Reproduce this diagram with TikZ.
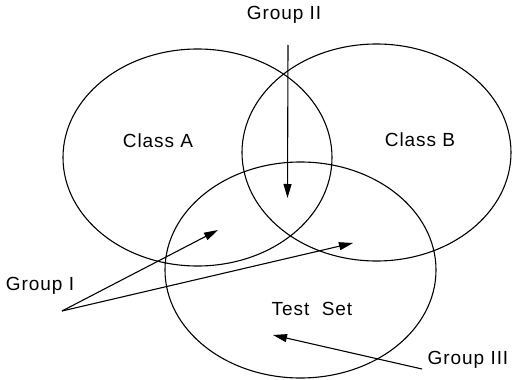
\documentclass[tikz,border=0pt]{standalone}
\usepackage{fontspec}
\setmainfont[LetterSpace=5]{Liberation Sans}
\usetikzlibrary{arrows.meta}
\begin{document}
\begin{tikzpicture}[x=1pt,y=-1pt,
  setline/.style={line width=1.1pt},
  lbl/.style={inner sep=0pt,font=\fontsize{19}{22}\selectfont},
  arr/.style={line width=1.1pt,-{Triangle[length=14pt,width=8pt]}}]
\useasboundingbox (0,0) rectangle (512,380);
% sets
\draw[setline] (197.5,157.5) ellipse [x radius=134.5, y radius=108.5];
\draw[setline] (376.5,152.5) ellipse [x radius=134.5, y radius=108.5];
\draw[setline] (300.5,270) ellipse [x radius=135.5, y radius=108];
% labels
\node[lbl] (g2) at (284,14.5) {Group II};
\node[lbl] (ca) at (158,140.5) {Class A};
\node[lbl] (cb) at (420,139.5) {Class B};
\node[lbl] (ts) at (312,309) {Test\ \ Set};
\node[lbl] (g1) at (40,285.5) {Group I};
\node[lbl] (g3) at (468,360) {Group III};
% arrow ends
\coordinate (g2s) at (288,45);
\coordinate (g2e) at (287.5,198);
\coordinate (g1s) at (62,311);
\coordinate (g1a) at (218,230);
\coordinate (g1b) at (353,243);
\coordinate (g3s) at (422,369);
\coordinate (g3e) at (273,335);
% arrows
\draw[arr] (g2s) -- (g2e);
\draw[arr] (g1s) -- (g1a);
\draw[arr] (g1s) -- (g1b);
\draw[arr] (g3s) -- (g3e);
\end{tikzpicture}
\end{document}
